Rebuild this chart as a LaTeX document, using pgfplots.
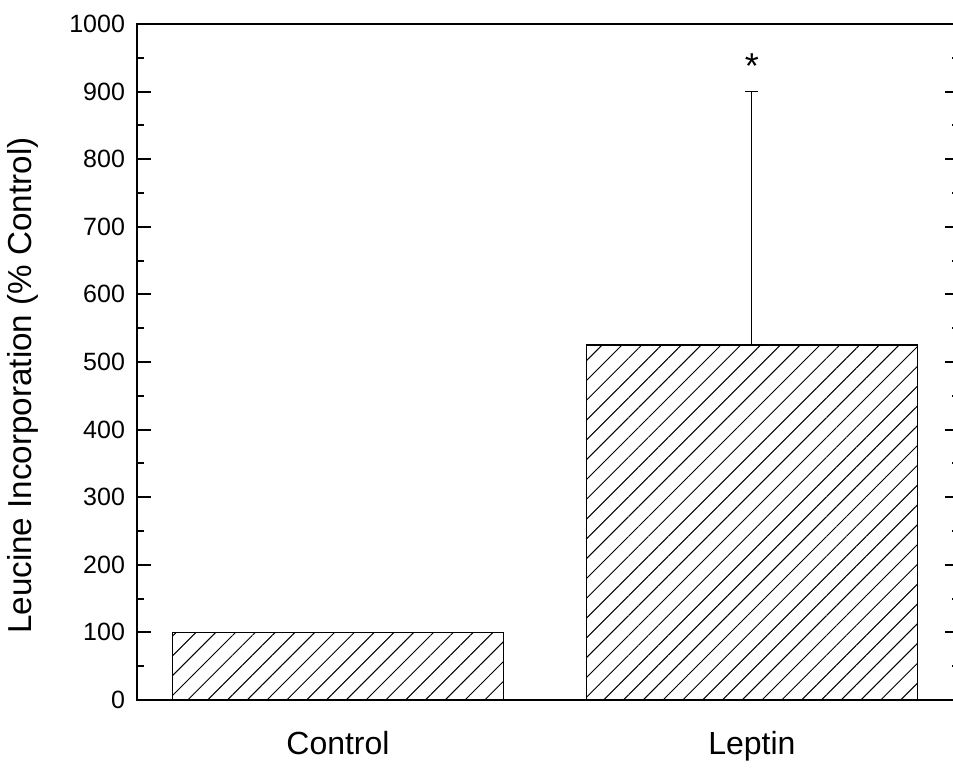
\documentclass[border=0pt]{standalone}
\usepackage{fontspec}
\setmainfont{Liberation Sans}
\usepackage{pgfplots}
\pgfplotsset{compat=1.18}
\usetikzlibrary{patterns.meta}
\begin{document}
\begin{tikzpicture}
\begin{axis}[
  name=ax,
  scale only axis,
  width=411pt, height=338pt,
  xmin=0, xmax=1, ymin=0, ymax=1000,
  axis line style={line width=1pt},
  xtick={0.2445,0.748},
  xticklabels={Control,Leptin},
  x tick style={draw=none},
  xticklabel style={font=\fontsize{16}{19}\selectfont, yshift=-12pt},
  ytick={0,100,...,1000},
  minor y tick num=1,
  ytick pos=both,
  tick align=inside,
  major tick length=7pt,
  minor tick length=3.5pt,
  y tick style={line width=1pt, black},
  /pgf/number format/assume math mode=true,
  /pgf/number format/1000 sep={},
  yticklabel style={font=\fontsize{12.5}{14}\selectfont, xshift=-2.5pt},
  ylabel={Leucine Incorporation (\% Control)},
  every axis y label/.style={at={(ticklabel cs:0.465)}, rotate=90, anchor=center, yshift=20pt, font=\fontsize{16.6}{19}\selectfont},
  clip=false,
]
\addplot[ybar, bar width=0.4027, draw=black, line width=0.75pt,
  pattern={Lines[angle=45,distance=7pt,line width=0.5pt]},
  error bars/.cd, y dir=plus, y explicit,
  error bar style={line width=0.6pt, black},
  error mark options={rotate=90, mark size=3.25pt, line width=0.6pt, black}]
  coordinates {(0.2445,100) +- (0,0) (0.748,525) +- (0,375)};
\node[font=\fontsize{18}{20}\selectfont] at (axis cs:0.748,938) {*};
\end{axis}
\pgfresetboundingbox
\path[use as bounding box] ([shift={(-68.5pt,-34.5pt)}]ax.south west) rectangle ([shift={(408pt,350pt)}]ax.south west);
\end{tikzpicture}
\end{document}
